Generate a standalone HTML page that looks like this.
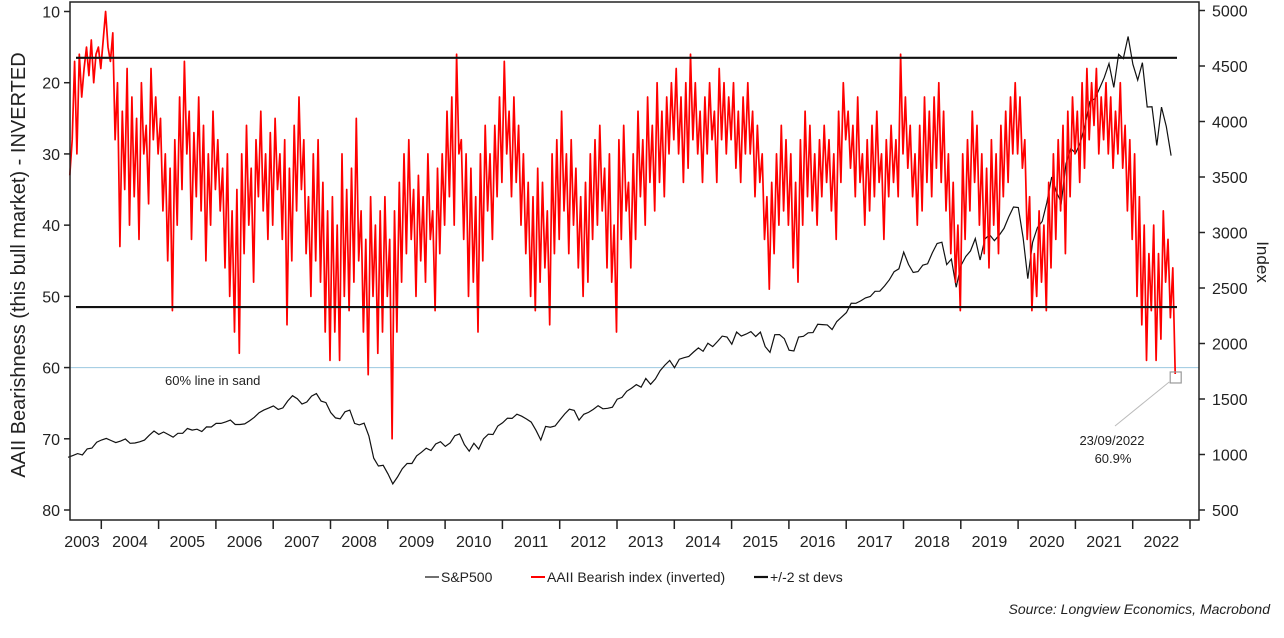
<!DOCTYPE html>
<html><head><meta charset="utf-8"><style>
body{margin:0;background:#fff;font-family:"Liberation Sans",Arial,sans-serif;}
svg text{font-family:"Liberation Sans",Arial,sans-serif;fill:#222;}
</style></head><body>
<svg id="chart" width="1284" height="633" xmlns="http://www.w3.org/2000/svg">
<rect width="1284" height="633" fill="#fff"/>
<g id="grid"></g>
<g id="series"></g>
<g id="axes"></g>
</svg>
<script>
const years=[2003,2004,2005,2006,2007,2008,2009,2010,2011,2012,2013,2014,2015,2016,2017,2018,2019,2020,2021,2022];
const leftTicks=[10,20,30,40,50,60,70,80];
const rightTicks=[500,1000,1500,2000,2500,3000,3500,4000,4500,5000];
const bandValues=[16.5,51.5];
const sandLine=60;
const bearStart=2003.45, bearStep=1/24;
const bearish=[33,28,17,30,16,22,18,15,19,14,20,16,15,18,
14,10,15,17,13,28,20,43,24,35,18,40,22,36,25,42,20,30,26,37,18,28,22,30,
25,38,30,45,32,52,28,40,22,35,17,30,24,42,27,36,22,38,26,45,30,40,24,35,
28,38,32,46,30,50,38,55,35,58,30,44,26,40,32,48,28,36,24,38,30,42,27,40,
25,35,30,42,28,54,32,45,26,38,22,35,28,44,36,50,30,45,28,48,34,55,38,59,
36,55,40,59,30,50,35,52,32,48,25,45,38,55,42,61,36,50,40,58,38,55,36,50,
42,70,38,55,34,48,30,44,28,42,35,50,33,45,36,48,30,42,38,52,32,44,30,40,
24,36,22,40,16,30,28,42,30,50,32,48,36,55,30,45,26,38,30,42,26,36,22,34,
17,30,24,36,22,34,26,40,30,44,34,50,36,52,32,48,34,46,38,54,30,44,28,42,
24,38,30,44,28,40,32,46,36,50,34,48,30,42,28,40,26,38,32,46,30,48,40,55,
28,42,26,38,34,46,30,42,24,36,28,40,22,34,26,38,20,34,24,36,22,30,20,28,
18,30,22,34,20,32,16,28,20,30,24,34,22,30,20,28,24,34,18,28,20,30,22,28,
20,32,24,34,22,30,20,30,24,36,26,34,30,42,36,49,34,44,30,40,26,38,28,40,
30,46,34,48,28,40,24,36,26,38,30,40,28,36,26,34,28,38,30,42,24,34,20,28,
24,32,26,36,22,34,30,40,28,38,26,36,24,34,30,42,28,36,26,34,28,36,16,30,
22,32,26,36,30,40,26,38,22,34,24,36,22,32,20,34,24,38,30,44,34,48,40,52,
30,42,28,38,24,34,26,40,30,44,32,46,28,40,30,44,26,36,24,34,22,30,20,30,
22,32,28,42,36,52,44,50,38,48,40,52,34,46,30,42,28,38,26,44,24,36,22,30,
24,34,20,32,18,28,20,26,18,30,22,28,20,30,22,32,24,30,20,32,26,38,28,42,
30,50,36,54,40,59,44,52,40,59,44,56,38,48,42,53,46,60.9];
const spStart=2003.42, spStep=1/12;
const sp500=[975,990,1008,996,1050,1058,1111,
1131,1145,1126,1107,1121,1140,1101,1104,1114,1130,1173,1212,
1181,1203,1180,1156,1191,1191,1234,1220,1228,1207,1249,1248,
1280,1280,1294,1310,1270,1270,1276,1303,1335,1377,1400,1418,
1438,1406,1420,1482,1530,1503,1455,1473,1526,1549,1481,1468,
1378,1330,1322,1385,1400,1280,1267,1282,1166,968,896,903,
825,735,797,872,919,919,987,1020,1057,1036,1095,1115,
1073,1104,1169,1186,1089,1030,1101,1049,1141,1183,1180,1257,
1286,1327,1325,1363,1345,1320,1292,1218,1131,1253,1246,1257,
1312,1365,1408,1397,1310,1362,1379,1406,1440,1412,1416,1426,
1498,1514,1569,1597,1630,1606,1685,1632,1681,1756,1805,1848,
1782,1859,1872,1883,1923,1960,1930,2003,1972,2018,2067,2058,
1994,2104,2067,2085,2107,2063,2103,1972,1920,2079,2080,2043,
1940,1932,2059,2065,2096,2098,2173,2170,2168,2126,2198,2238,
2278,2363,2362,2384,2411,2423,2470,2471,2519,2575,2647,2673,
2823,2713,2640,2648,2705,2718,2816,2901,2913,2711,2760,2506,
2704,2784,2834,2945,2752,2941,2980,2926,2976,3037,3140,3230,
3225,2954,2584,2912,3044,3100,3271,3500,3363,3269,3621,3756,
3714,3811,3972,4181,4204,4297,4395,4522,4307,4605,4567,4766,
4515,4373,4530,4131,4132,3785,4130,3955,3693];

const X0=70,X1=1199,Y0=2,YB=520;
const xs=t=>44+(t-2003)*57.3;
const yl=v=>11.5+(v-10)*(510-11.5)/70;
const yr=v=>510-(v-500)*(499.5/4500);
const NS="http://www.w3.org/2000/svg";
function mk(tag,attrs,parent,txt){const e=document.createElementNS(NS,tag);for(const k in attrs)e.setAttribute(k,attrs[k]);if(txt!==undefined)e.textContent=txt;parent.appendChild(e);return e;}
const G=document.getElementById('grid'),S=document.getElementById('series'),A=document.getElementById('axes');

let e=mk('line',{x1:X0,x2:X1,y1:yl(sandLine),y2:yl(sandLine),stroke:'#9cc8e0','stroke-width':1},G);


e=mk('text',{x:165,y:385,'font-size':13},G,'60% line in sand');



let d=sp500.map((v,i)=>(i?'L':'M')+xs(spStart+i*spStep).toFixed(1)+' '+yr(v).toFixed(1)).join('');
e=mk('path',{d:d,fill:'none',stroke:'#111','stroke-width':1.2},S);


d=bearish.map((v,i)=>(i?'L':'M')+xs(bearStart+i*bearStep).toFixed(1)+' '+yl(v).toFixed(1)).join('');
e=mk('path',{d:d,fill:'none',stroke:'#f00','stroke-width':1.7,'stroke-linejoin':'round'},S);


bandValues.forEach(v=>{
  const b=mk('line',{x1:X0+6,x2:1177,y1:yl(v),y2:yl(v),stroke:'#111','stroke-width':2.2},S);
  
  
});

e=mk('rect',{x:X0,y:Y0,width:X1-X0,height:YB-Y0,fill:'none',stroke:'#222','stroke-width':1.5},A);


leftTicks.forEach(v=>{
  mk('line',{x1:X0-6,x2:X0,y1:yl(v),y2:yl(v),stroke:'#222','stroke-width':1.5},A);
  const t=mk('text',{x:X0-10,y:yl(v)+6,'font-size':16,'text-anchor':'end'},A,v);
  
  
});
rightTicks.forEach(v=>{
  mk('line',{x1:X1,x2:X1+6,y1:yr(v),y2:yr(v),stroke:'#222','stroke-width':1.5},A);
  const t=mk('text',{x:X1+13,y:yr(v)+6,'font-size':16},A,v);
  
  
});
years.forEach(y=>{
  if(y>2003) mk('line',{x1:xs(y),x2:xs(y),y1:YB,y2:YB+9,stroke:'#222','stroke-width':1.5},A);
  const cx=y===2003?82:xs(y+0.5);
  const t=mk('text',{x:cx,y:547,'font-size':16,'text-anchor':'middle'},A,y);
  
  
});
mk('line',{x1:xs(2023),x2:xs(2023),y1:YB,y2:YB+9,stroke:'#222','stroke-width':1.5},A);

e=mk('text',{x:0,y:0,'font-size':20,'text-anchor':'middle',transform:'translate(25,265) rotate(-90)'},A,'AAII Bearishness (this bull market) - INVERTED');


e=mk('text',{x:0,y:0,'font-size':17,'text-anchor':'middle',transform:'translate(1257,262) rotate(90)'},A,'Index');



const lx=xs(bearStart+(bearish.length-1)*bearStep), ly=yl(bearish[bearish.length-1]);
e=mk('rect',{x:lx-5,y:ly-2,width:11,height:11,fill:'none',stroke:'#999','stroke-width':1.2},A);


mk('line',{x1:lx-6,x2:1115,y1:ly+8,y2:426,stroke:'#bbb','stroke-width':1},A);
e=mk('text',{x:1112,y:445,'font-size':13,'text-anchor':'middle'},A,'23/09/2022');


e=mk('text',{x:1113,y:463,'font-size':13,'text-anchor':'middle'},A,'60.9%');



const L=mk('g',{},A);


[[425,'#111',1.2,'S&P500'],[531,'#f00',2,'AAII Bearish index (inverted)'],[754,'#111',2.2,'+/-2 st devs']].forEach(([x,c,w,lab])=>{
  mk('line',{x1:x,x2:x+14,y1:577,y2:577,stroke:c,'stroke-width':w},L);
  const t=mk('text',{x:x+16,y:582,'font-size':14},L,lab);
  
  
});
e=mk('text',{x:1270,y:614,'font-size':14,'font-style':'italic','text-anchor':'end'},A,'Source: Longview Economics, Macrobond');


</script>
</body></html>
